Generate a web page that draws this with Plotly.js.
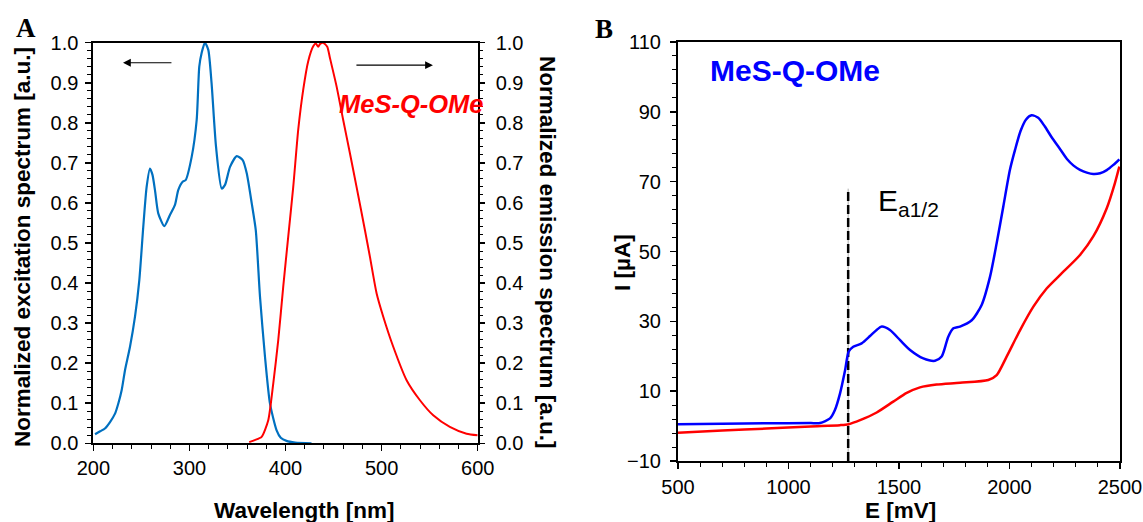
<!DOCTYPE html>
<html>
<head>
<meta charset="utf-8">
<script src="https://cdn.plot.ly/plotly-3.0.1.min.js"></script>
<style>
  html, body { margin: 0; padding: 0; background: #fff; }
  #chart { width: 1143px; height: 522px; }
</style>
</head>
<body>
<div id="chart"></div>
<script>
// Panel A: normalized excitation (left axis) and emission (right axis) spectra
const excWavelength = [201.7, 207, 212, 217.3, 222.5, 226, 229.4, 232.9, 238.1, 243.3, 247.8, 251.9, 255.4, 258.9, 261.5, 264.1, 267.5, 273.8, 279.7, 284.9, 288.3, 292.9, 296, 302.3, 307.5, 310.2, 312.7, 316.1, 319.6, 323, 327.6, 333.5, 337, 342.2, 349.2, 355.4, 359.6, 364.8, 369, 373.4, 378.6, 383.8, 390.7, 395, 401, 410, 427];
const excIntensity  = [0.0225, 0.03, 0.037, 0.053, 0.074, 0.1, 0.1325, 0.1825, 0.241, 0.316, 0.4075, 0.54, 0.64, 0.686, 0.67, 0.632, 0.574, 0.542, 0.57, 0.595, 0.632, 0.653, 0.657, 0.715, 0.807, 0.94, 0.975, 1.0, 0.982, 0.899, 0.741, 0.636, 0.645, 0.69, 0.717, 0.707, 0.674, 0.599, 0.532, 0.366, 0.216, 0.099, 0.0325, 0.014, 0.006, 0.002, 0.0];

const emWavelength = [362.2, 368, 375.1, 382, 387.2, 392.4, 397.6, 402.8, 408, 413.2, 418.4, 423.6, 428.8, 431.5, 434, 436, 439.2, 443.4, 446.2, 453.1, 460, 467, 473.9, 482.6, 487.8, 494.8, 501.7, 512.1, 526, 539.9, 553.7, 571, 588.4, 600];
const emIntensity  = [0.003, 0.008, 0.016, 0.0575, 0.149, 0.2575, 0.391, 0.516, 0.64, 0.783, 0.883, 0.954, 0.991, 0.998, 0.99, 0.997, 1.0, 0.99, 0.962, 0.891, 0.807, 0.724, 0.64, 0.5325, 0.466, 0.374, 0.316, 0.241, 0.1575, 0.1075, 0.07, 0.041, 0.024, 0.02];

// Direction arrows: [tail, head] wavelengths and their heights
const excArrowX = [282.8, 230.8];
const emArrowX  = [472.2, 553.4];
const arrowLevel = [0.95, 0.944];

// Panel B: cyclic voltammetry, forward (blue) and background (red) scans
const cvPotential = [500, 700, 900, 1100, 1143, 1188, 1210, 1233, 1256, 1272, 1293, 1331, 1369, 1400, 1422, 1459, 1505, 1550, 1610, 1663, 1693, 1723, 1746, 1776, 1829, 1874, 1912, 1942, 1972, 2002, 2025, 2050, 2075, 2100, 2130, 2160, 2190, 2229, 2260, 2290, 2319, 2350, 2379, 2410, 2440, 2470, 2497];
const cvCurrent   = [0.55, 0.7, 0.8, 0.85, 0.9, 2.2, 4.6, 9.3, 16, 21.3, 22.7, 23.7, 25.8, 27.6, 28.5, 27.5, 24.6, 21.8, 19.4, 18.7, 19.9, 25.6, 28, 28.5, 30.3, 34.7, 42.8, 52.4, 62.9, 73.4, 79.1, 84.5, 87.8, 89, 88.3, 85.8, 82.8, 79.3, 76.5, 74.6, 73.4, 72.6, 72.2, 72.4, 73.3, 74.8, 76.4];

const bgPotential = [500, 700, 900, 1100, 1233, 1272, 1324, 1399, 1474, 1535, 1595, 1670, 1776, 1904, 1942, 1987, 2048, 2108, 2168, 2229, 2319, 2379, 2440, 2477, 2497];
const bgCurrent   = [-1.93, -1.3, -0.7, -0.1, 0.27, 0.55, 1.7, 3.9, 7, 9.5, 11.1, 11.9, 12.4, 13.2, 14.6, 19.9, 27.5, 34.2, 39.4, 43.3, 49, 54.3, 62.4, 69.6, 74.3];

// Half-wave anodic potential marker
const eHalf = 1270;
const eHalfSpan = [-10, 68];

const FONT = 'Liberation Sans, Arial, sans-serif';
const SERIF = 'Liberation Serif, Times New Roman, serif';

const traces = [
  { x: excWavelength, y: excIntensity, xaxis: 'x', yaxis: 'y', mode: 'lines',
    line: { color: '#0070C0', width: 2.2, shape: 'spline', smoothing: 0.6 } },
  { x: emWavelength, y: emIntensity, xaxis: 'x', yaxis: 'y3', mode: 'lines',
    line: { color: '#FF0000', width: 2, shape: 'spline', smoothing: 0.6 } },
  { x: [eHalf, eHalf], y: eHalfSpan, xaxis: 'x2', yaxis: 'y2', mode: 'lines',
    line: { color: '#999999', width: 0.8 } },
  { x: [eHalf, eHalf], y: eHalfSpan, xaxis: 'x2', yaxis: 'y2', mode: 'lines',
    line: { color: '#000000', width: 2.5, dash: '9px,4px' } },
  { x: bgPotential, y: bgCurrent, xaxis: 'x2', yaxis: 'y2', mode: 'lines',
    line: { color: '#FF0000', width: 2.5, shape: 'spline', smoothing: 0.7 } },
  { x: cvPotential, y: cvCurrent, xaxis: 'x2', yaxis: 'y2', mode: 'lines',
    line: { color: '#0000FF', width: 2.5, shape: 'spline', smoothing: 0.7 } }
];

const tickFont = { family: FONT, size: 20, color: '#000' };
const titleFont = { family: FONT, size: 22.5, color: '#000', weight: 'bold' };

function px(x) { return x / 1143; }
function py(y) { return 1 - y / 522; }

const layout = {
  width: 1143, height: 522,
  margin: { l: 0, r: 0, t: 0, b: 0 },
  paper_bgcolor: '#fff', plot_bgcolor: '#fff',
  showlegend: false,
  xaxis: {
    domain: [px(93.4), px(477.7)], range: [200, 600], anchor: 'y',
    dtick: 100, ticks: 'outside', ticklen: 6, tickwidth: 1.5, tickcolor: '#000',
    minor: { dtick: 20, ticks: 'outside', ticklen: 4, tickwidth: 1, tickcolor: '#000' },
    showline: true, linewidth: 2, linecolor: '#000', mirror: true,
    showgrid: false, zeroline: false, tickfont: tickFont, ticklabelstandoff: 0
  },
  yaxis: {
    domain: [py(443.3), py(42.7)], range: [0, 1], anchor: 'x',
    dtick: 0.1, tickformat: '.1f', ticks: 'outside', ticklen: 6, tickwidth: 1.5, tickcolor: '#000',
    minor: { dtick: 0.02, ticks: 'outside', ticklen: 4, tickwidth: 1, tickcolor: '#000' },
    showline: true, linewidth: 2, linecolor: '#000',
    showgrid: false, zeroline: false, tickfont: tickFont, ticklabelstandoff: 3
  },
  yaxis3: {
    overlaying: 'y', side: 'right', anchor: 'x', range: [0, 1],
    dtick: 0.1, tickformat: '.1f', ticks: 'outside', ticklen: 5, tickwidth: 1.5, tickcolor: '#000',
    minor: { dtick: 0.02, ticks: 'outside', ticklen: 3, tickwidth: 1, tickcolor: '#000' },
    showline: true, linewidth: 2, linecolor: '#000',
    showgrid: false, zeroline: false, tickfont: tickFont, ticklabelstandoff: 7
  },
  yaxis4: {
    overlaying: 'y', side: 'right', anchor: 'x', range: [0, 1],
    dtick: 0.1, ticks: 'inside', ticklen: 5, tickwidth: 1.5, tickcolor: '#000',
    minor: { dtick: 0.02, ticks: 'inside', ticklen: 3, tickwidth: 1, tickcolor: '#000' },
    showticklabels: false, showline: false, showgrid: false, zeroline: false
  },
  xaxis2: {
    domain: [px(678), px(1120)], range: [500, 2500], anchor: 'y2',
    dtick: 500, ticks: 'outside', ticklen: 6, tickwidth: 1.5, tickcolor: '#000',
    minor: { dtick: 100, ticks: 'outside', ticklen: 4, tickwidth: 1, tickcolor: '#000' },
    showline: true, linewidth: 2, linecolor: '#000', mirror: true,
    showgrid: false, zeroline: false, tickfont: tickFont, ticklabelstandoff: 1
  },
  yaxis2: {
    domain: [py(461), py(42)], range: [-10, 110], anchor: 'x2',
    tick0: -10, dtick: 20, ticks: 'outside', ticklen: 6, tickwidth: 1.5, tickcolor: '#000',
    minor: { tick0: -10, dtick: 4, ticks: 'outside', ticklen: 4, tickwidth: 1, tickcolor: '#000' },
    showline: true, linewidth: 2, linecolor: '#000', mirror: true,
    showgrid: false, zeroline: false, tickfont: tickFont, ticklabelstandoff: 5
  },
  annotations: [
    // panel letters
    { text: '<b>A</b>', xref: 'paper', yref: 'paper', x: px(26), y: py(28), showarrow: false,
      xanchor: 'center', yanchor: 'middle', font: { family: SERIF, size: 27, color: '#000' } },
    { text: '<b>B</b>', xref: 'paper', yref: 'paper', x: px(604), y: py(29), showarrow: false,
      xanchor: 'center', yanchor: 'middle', font: { family: SERIF, size: 27, color: '#000' } },
    // axis titles, panel A
    { text: '<b>Normalized excitation spectrum [a.u.]</b>', xref: 'paper', yref: 'paper',
      x: px(22), y: py(247), textangle: -90, showarrow: false,
      xanchor: 'center', yanchor: 'middle', font: titleFont },
    { text: '<b>Normalized emission spectrum [a.u.]</b>', xref: 'paper', yref: 'paper',
      x: px(548), y: py(252), textangle: 90, showarrow: false,
      xanchor: 'center', yanchor: 'middle', font: titleFont },
    { text: '<b>Wavelength [nm]</b>', xref: 'paper', yref: 'paper',
      x: px(304), y: py(510), showarrow: false,
      xanchor: 'center', yanchor: 'middle', font: titleFont },
    // axis titles, panel B
    { text: '<b>I [µA]</b>', xref: 'paper', yref: 'paper',
      x: px(622), y: py(262), textangle: -90, showarrow: false,
      xanchor: 'center', yanchor: 'middle', font: titleFont },
    { text: '<b>E [mV]</b>', xref: 'paper', yref: 'paper',
      x: px(900), y: py(510), showarrow: false,
      xanchor: 'center', yanchor: 'middle', font: titleFont },
    // compound labels
    { text: '<b><i>MeS-Q-OMe</i></b>', xref: 'paper', yref: 'paper',
      x: px(337), y: py(104), showarrow: false,
      xanchor: 'left', yanchor: 'middle', font: { family: FONT, size: 25.5, color: '#FF0000' } },
    { text: '<b>MeS-Q-OMe</b>', xref: 'paper', yref: 'paper',
      x: px(708), y: py(70), showarrow: false,
      xanchor: 'left', yanchor: 'middle', font: { family: FONT, size: 30, color: '#0000FF' } },
    { text: 'E<sub>a1/2</sub>', xref: 'x2', yref: 'y2',
      x: 1394, y: 64, showarrow: false,
      xanchor: 'left', yanchor: 'middle', font: { family: FONT, size: 30, color: '#000' } },
    // direction arrows
    { text: '', xref: 'x', yref: 'y', axref: 'x', ayref: 'y',
      x: excArrowX[1], y: arrowLevel[0], ax: excArrowX[0], ay: arrowLevel[0],
      showarrow: true, arrowhead: 2, arrowsize: 1.3, arrowwidth: 1.2, arrowcolor: '#000' },
    { text: '', xref: 'x', yref: 'y', axref: 'x', ayref: 'y',
      x: emArrowX[1], y: arrowLevel[1], ax: emArrowX[0], ay: arrowLevel[1],
      showarrow: true, arrowhead: 2, arrowsize: 1.3, arrowwidth: 1.2, arrowcolor: '#000' }
  ]
};

Plotly.newPlot('chart', traces, layout, { staticPlot: true, displayModeBar: false });
</script>
</body>
</html>
